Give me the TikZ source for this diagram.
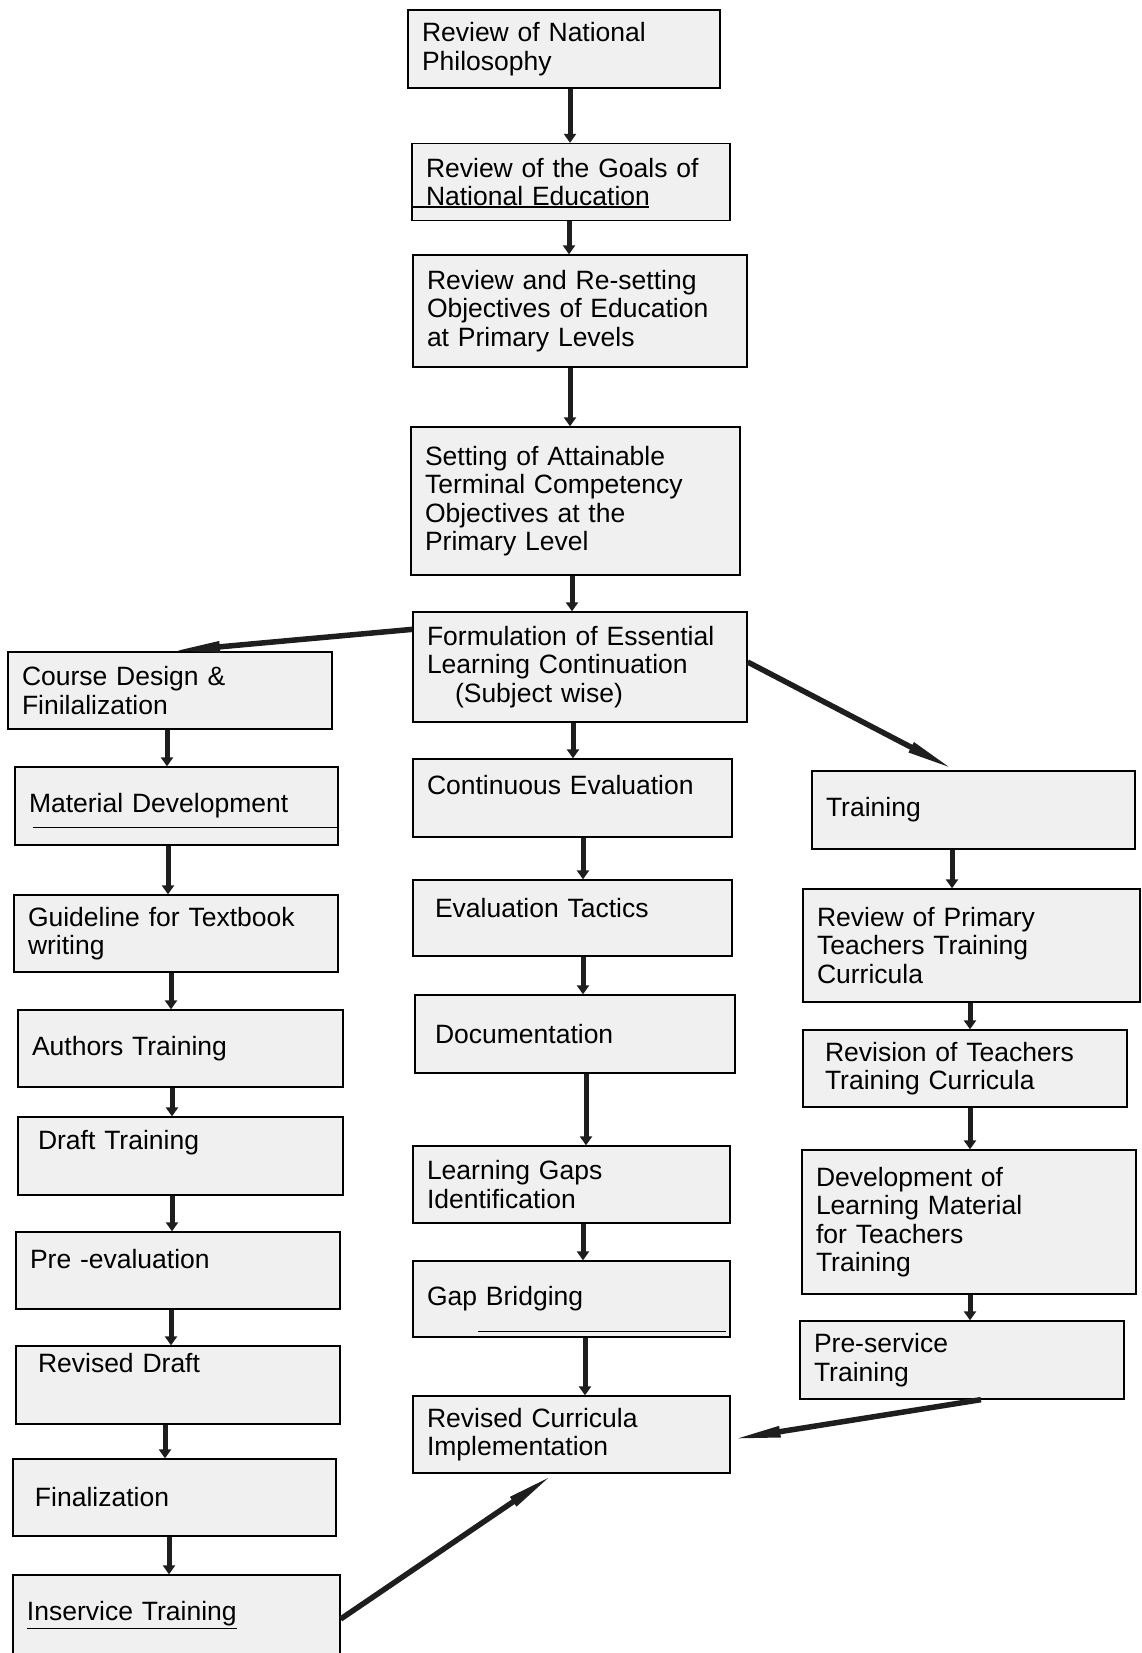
\documentclass[tikz,border=0pt]{standalone}
\usepackage{fontspec}
\setmainfont{Liberation Sans}
\usetikzlibrary{arrows.meta}
\definecolor{stipple}{HTML}{F0F0F0}
\definecolor{shaft}{HTML}{1E1E1E}

\tikzset{
  stage/.style={draw, line width=1.3pt, fill=stipple, align=left, inner xsep=14pt, inner ysep=0pt},
  lift/.style={text depth=#1},
  flow/.style={draw=shaft, line width=5pt, -{Triangle[length=9pt,width=12pt]}},
  link/.style={draw=shaft, line width=5.5pt, -{Triangle[length=50pt,width=10pt]}},
}

\begin{document}
\begin{tikzpicture}[x=1pt, y=-1pt, font=\fontsize{26.5}{28.5}\selectfont]

        \useasboundingbox (0,0) rectangle (1141,1653);

        % Centre column
        \node[stage, text width=284pt, minimum height=78pt] (phil) at (564,49) {Review of National\\Philosophy};
        \node[stage, text width=290pt, minimum height=77pt] (goals) at (571,182) {Review of the Goals of\\National Education};
        \node[stage, text width=306pt, minimum height=112pt] (objectives) at (580,311) {Review and Re-setting\\Objectives of Education\\at Primary Levels};
        \node[stage, text width=301pt, minimum height=148pt] (terminal) at (575.5,501) {Setting of Attainable\\Terminal Competency\\Objectives at the\\Primary Level};
        \node[stage, text width=306pt, minimum height=110pt] (formulation) at (580,667) {Formulation of Essential\\Learning Continuation\\\hspace*{28pt}(Subject wise)};
        \node[stage, lift=26pt, text width=291pt, minimum height=78pt] (evaluation) at (572.5,798) {Continuous Evaluation};
        \node[stage, lift=20pt, text width=291pt, minimum height=76pt] (tactics) at (572.5,918) {\hspace*{8pt}Evaluation Tactics};
        \node[stage, text width=292pt, minimum height=78pt] (documentation) at (575,1034) {\hspace*{6pt}Documentation};
        \node[stage, text width=289pt, minimum height=77pt] (gaps) at (571.5,1184.5) {Learning Gaps\\Identification};
        \node[stage, text width=289pt, minimum height=76pt] (bridging) at (571.5,1299) {Gap Bridging};
        \node[stage, text width=289pt, minimum height=77pt] (implementation) at (571.5,1434.5) {Revised Curricula\\Implementation};

        % Left column
        \node[stage, text width=296pt, minimum height=77pt] (course) at (170,690.5) {Course Design \&\\Finilalization};
        \node[stage, text width=295pt, minimum height=78pt] (material) at (176.5,806) {Material Development};
        \node[stage, text width=296pt, minimum height=77pt] (guideline) at (176,933.5) {Guideline for Textbook\\writing};
        \node[stage, text width=297pt, minimum height=77pt] (authors) at (180.5,1048.5) {Authors Training};
        \node[stage, lift=33pt, text width=297pt, minimum height=78pt] (draft) at (180.5,1156) {\hspace*{6pt}Draft Training};
        \node[stage, lift=24pt, text width=296pt, minimum height=77pt] (preeval) at (178,1270.5) {Pre -evaluation};
        \node[stage, lift=44pt, text width=296pt, minimum height=78pt] (revdraft) at (178,1385) {\hspace*{8pt}Revised Draft};
        \node[stage, text width=295pt, minimum height=77pt] (final) at (174.5,1497.5) {\hspace*{8pt}Finalization};
        \node[stage, text width=299pt, minimum height=80pt] (inservice) at (176.5,1615) {\underline{Inservice Training}};

        % Right column
        \node[stage, text width=295pt, minimum height=78pt] (training) at (973.5,810) {Training};
        \node[stage, text width=309pt, minimum height=113pt] (primary) at (971.5,945.5) {Review of Primary\\Teachers Training\\Curricula};
        \node[stage, text width=296pt, minimum height=77pt] (revision) at (965,1068.5) {\hspace*{8pt}Revision of Teachers\\\hspace*{8pt}Training Curricula};
        \node[stage, text width=306pt, minimum height=144pt] (teachmat) at (969,1222) {Development of\\Learning Material\\for Teachers\\Training};
        \node[stage, text width=296pt, minimum height=78pt] (preservice) at (962,1360) {Pre-service\\Training};

        % Underlines
        \draw[line width=1.4pt] (goals.south west) ++(0,-14) -- ++(238,0);
        \draw[line width=1.4pt] (material.south east) ++(0,-18) -- ++(-306,0);
        \draw[line width=1.4pt] (bridging.south east) ++(-5,-6) -- ++(-248,0);

        % Centre arrows
        \draw[flow] (phil.south -| 570,0) -- (goals.north -| 570,0);
        \draw[flow] (goals.south -| 569,0) -- (objectives.north -| 569,0);
        \draw[flow] (objectives.south -| 570,0) -- (terminal.north -| 570,0);
        \draw[flow] (terminal.south -| 572,0) -- (formulation.north -| 572,0);
        \draw[flow] (formulation.south -| 573,0) -- (evaluation.north -| 573,0);
        \draw[flow] (evaluation.south -| 583,0) -- (tactics.north -| 583,0);
        \draw[flow] (tactics.south -| 583,0) -- (documentation.north -| 583,0);
        \draw[flow] (documentation.south -| 586,0) -- (gaps.north -| 586,0);
        \draw[flow] (gaps.south -| 583,0) -- (bridging.north -| 583,0);
        \draw[flow] (bridging.south -| 585,0) -- (implementation.north -| 585,0);

        % Left arrows
        \draw[flow] (course.south -| 167,0) -- (material.north -| 167,0);
        \draw[flow] (material.south -| 168,0) -- (guideline.north -| 168,0);
        \draw[flow] (guideline.south -| 171,0) -- (authors.north -| 171,0);
        \draw[flow] (authors.south -| 172,0) -- (draft.north -| 172,0);
        \draw[flow] (draft.south -| 172,0) -- (preeval.north -| 172,0);
        \draw[flow] (preeval.south -| 171,0) -- (revdraft.north -| 171,0);
        \draw[flow] (revdraft.south -| 165,0) -- (final.north -| 165,0);
        \draw[flow] (final.south -| 169,0) -- (inservice.north -| 169,0);

        % Right arrows
        \draw[flow] (training.south -| 952,0) -- (primary.north -| 952,0);
        \draw[flow] (primary.south -| 970,0) -- (revision.north -| 970,0);
        \draw[flow] (revision.south -| 970,0) -- (teachmat.north -| 970,0);
        \draw[flow] (teachmat.south -| 970,0) -- (preservice.north -| 970,0);

        % Branches
        \draw[link] ([yshift=-18pt]formulation.north west) -- (course.north);
        \draw[link] ([yshift=5pt]formulation.east) -- ([xshift=-18pt]training.north);
        \draw[link] ([xshift=19pt]preservice.south) -- ([yshift=-5pt]implementation.east);
        \draw[link] ([yshift=-4pt]inservice.east) -- ([xshift=-17pt]implementation.south);

\end{tikzpicture}
\end{document}
